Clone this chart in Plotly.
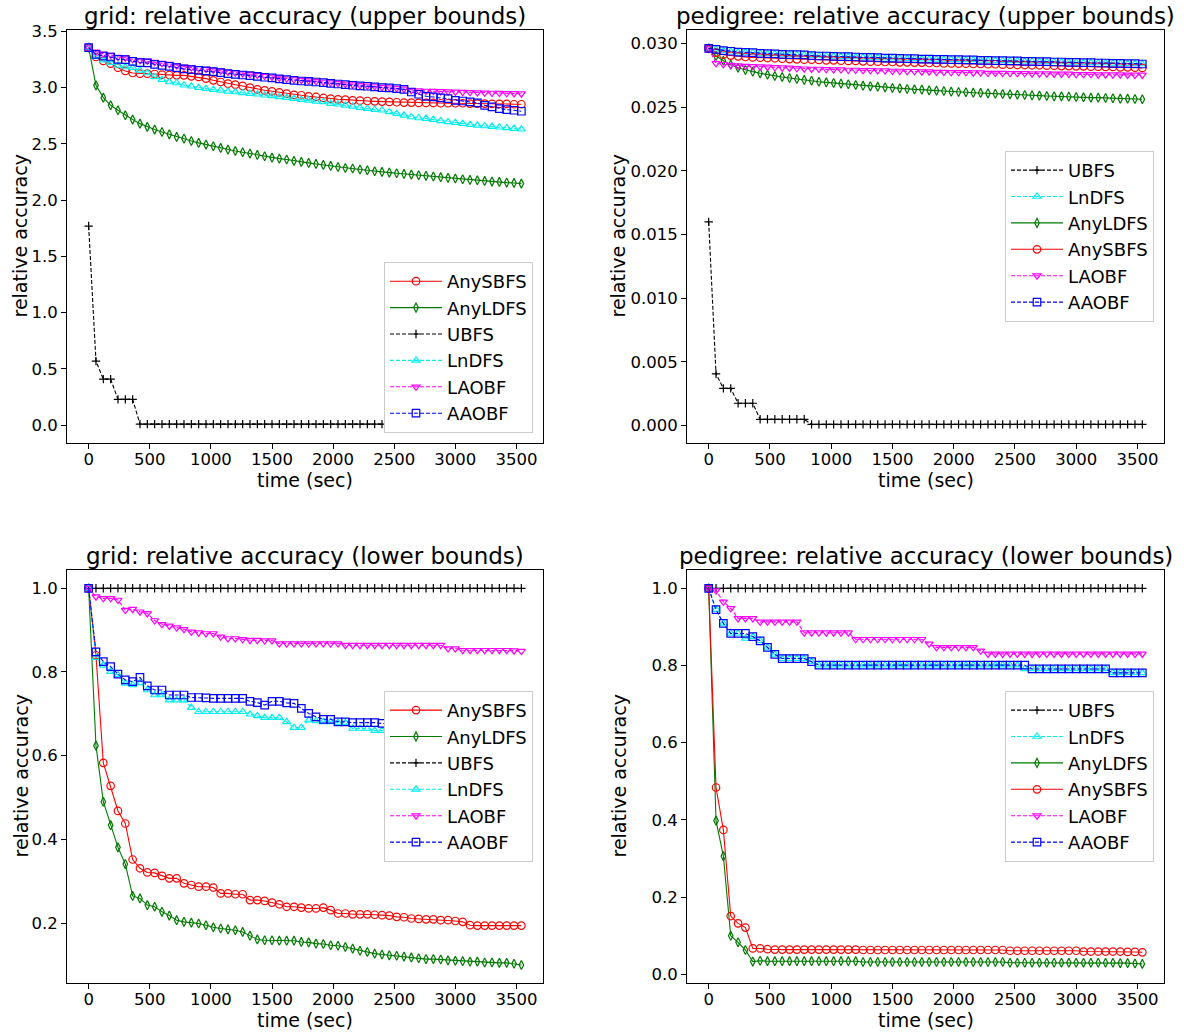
import plotly.graph_objects as go

# ---------------- data ----------------
T = [0, 60, 120, 180, 240, 300, 360, 420, 480, 540, 600, 660, 720, 780, 840, 900, 960, 1020,
     1080, 1140, 1200, 1260, 1320, 1380, 1440, 1500, 1560, 1620, 1680, 1740, 1800, 1860, 1920,
     1980, 2040, 2100, 2160, 2220, 2280, 2340, 2400, 2460, 2520, 2580, 2640, 2700, 2760, 2820,
     2880, 2940, 3000, 3060, 3120, 3180, 3240, 3300, 3360, 3420, 3480, 3540]

X_TICKS = [0, 500, 1000, 1500, 2000, 2500, 3000, 3500]

# grid: upper bounds
grid_ub_AnySBFS = [3.355, 3.272, 3.237, 3.213, 3.177, 3.148, 3.130, 3.124, 3.124, 3.121,
                   3.115, 3.112, 3.109, 3.109, 3.100, 3.095, 3.080, 3.065, 3.050, 3.035,
                   3.026, 3.015, 3.000, 2.985, 2.976, 2.967, 2.958, 2.947, 2.935, 2.932,
                   2.923, 2.917, 2.908, 2.902, 2.896, 2.893, 2.887, 2.884, 2.881, 2.878,
                   2.876, 2.873, 2.870, 2.867, 2.867, 2.864, 2.864, 2.864, 2.861, 2.861,
                   2.861, 2.861, 2.858, 2.858, 2.858, 2.855, 2.855, 2.855, 2.852, 2.852]
grid_ub_AnyLDFS = [3.355, 3.020, 2.911, 2.843, 2.799, 2.754, 2.716, 2.680, 2.651, 2.627,
                   2.606, 2.585, 2.562, 2.547, 2.526, 2.509, 2.494, 2.479, 2.464, 2.449,
                   2.437, 2.426, 2.414, 2.402, 2.390, 2.378, 2.369, 2.361, 2.349, 2.340,
                   2.331, 2.322, 2.313, 2.304, 2.295, 2.286, 2.281, 2.272, 2.266, 2.257,
                   2.251, 2.245, 2.239, 2.233, 2.227, 2.221, 2.216, 2.210, 2.204, 2.198,
                   2.192, 2.186, 2.180, 2.177, 2.171, 2.165, 2.162, 2.156, 2.153, 2.147]
grid_ub_UBFS = [1.77, 0.57, 0.41, 0.41, 0.23, 0.23, 0.23] + [0.01] * 53
grid_ub_LnDFS = [3.355, 3.272, 3.243, 3.222, 3.198, 3.183, 3.177, 3.154, 3.130, 3.095,
                 3.071, 3.050, 3.041, 3.021, 3.012, 3.000, 2.991, 2.982, 2.976, 2.967,
                 2.961, 2.953, 2.947, 2.941, 2.932, 2.926, 2.917, 2.911, 2.902, 2.893,
                 2.887, 2.878, 2.873, 2.858, 2.852, 2.843, 2.834, 2.822, 2.813, 2.804,
                 2.799, 2.784, 2.769, 2.754, 2.739, 2.730, 2.725, 2.716, 2.704, 2.695,
                 2.689, 2.680, 2.671, 2.665, 2.659, 2.654, 2.648, 2.642, 2.636, 2.630]
grid_ub_LAOBF = [3.355, 3.318, 3.300, 3.290, 3.272, 3.266, 3.252, 3.242, 3.238, 3.226,
                 3.217, 3.208, 3.196, 3.185, 3.178, 3.172, 3.165, 3.158, 3.149, 3.139,
                 3.132, 3.125, 3.118, 3.111, 3.102, 3.095, 3.086, 3.079, 3.072, 3.066,
                 3.062, 3.056, 3.050, 3.044, 3.038, 3.032, 3.026, 3.020, 3.016, 3.010,
                 3.004, 3.000, 2.994, 2.988, 2.976, 2.973, 2.970, 2.968, 2.966, 2.964,
                 2.962, 2.960, 2.958, 2.956, 2.954, 2.952, 2.951, 2.949, 2.948, 2.946]
grid_ub_AAOBF = [3.355, 3.296, 3.281, 3.272, 3.251, 3.248, 3.234, 3.222, 3.219, 3.207,
                 3.198, 3.189, 3.177, 3.166, 3.160, 3.154, 3.148, 3.142, 3.133, 3.124,
                 3.118, 3.112, 3.106, 3.100, 3.092, 3.086, 3.077, 3.071, 3.065, 3.059,
                 3.056, 3.050, 3.044, 3.038, 3.032, 3.026, 3.021, 3.015, 3.012, 3.006,
                 3.000, 2.997, 2.991, 2.985, 2.961, 2.941, 2.923, 2.917, 2.908, 2.902,
                 2.887, 2.881, 2.873, 2.864, 2.843, 2.828, 2.813, 2.804, 2.799, 2.790]

# pedigree: upper bounds
ped_ub_UBFS = [0.0160, 0.00406, 0.00293, 0.00293, 0.00176, 0.00176, 0.00176] + [0.0005] * 7 + [0.0001] * 46
ped_ub_AAOBF = [0.02962, 0.02954, 0.02944, 0.02939, 0.02933, 0.02931, 0.02928, 0.02923, 0.02920, 0.02918,
                0.02915, 0.02912, 0.02912, 0.02910, 0.02905, 0.02902, 0.02902, 0.02899, 0.02897, 0.02897,
                0.02894, 0.02891, 0.02891, 0.02889, 0.02886, 0.02886, 0.02884, 0.02881, 0.02881, 0.02878,
                0.02878, 0.02876, 0.02876, 0.02873, 0.02873, 0.02871, 0.02871, 0.02868, 0.02868, 0.02865,
                0.02865, 0.02863, 0.02863, 0.02860, 0.02860, 0.02857, 0.02857, 0.02855, 0.02855, 0.02852,
                0.02852, 0.02850, 0.02850, 0.02847, 0.02847, 0.02844, 0.02844, 0.02842, 0.02842, 0.02839]
ped_ub_LnDFS = [0.02962, 0.02954, 0.02944, 0.02939, 0.02933, 0.02931, 0.02928, 0.02923, 0.02920, 0.02918,
                0.02915, 0.02912, 0.02912, 0.02910, 0.02905, 0.02902, 0.02902, 0.02899, 0.02897, 0.02897,
                0.02894, 0.02891, 0.02891, 0.02889, 0.02886, 0.02886, 0.02884, 0.02881, 0.02881, 0.02878,
                0.02878, 0.02876, 0.02876, 0.02873, 0.02873, 0.02871, 0.02871, 0.02868, 0.02868, 0.02865,
                0.02865, 0.02863, 0.02863, 0.02860, 0.02860, 0.02857, 0.02857, 0.02855, 0.02855, 0.02852,
                0.02852, 0.02850, 0.02850, 0.02847, 0.02847, 0.02844, 0.02844, 0.02842, 0.02842, 0.02839]
ped_ub_AnySBFS = [0.02962, 0.02928, 0.02912, 0.02905, 0.02899, 0.02894, 0.02891, 0.02889, 0.02886, 0.02884,
                  0.02881, 0.02878, 0.02876, 0.02873, 0.02873, 0.02871, 0.02868, 0.02868, 0.02865, 0.02863,
                  0.02863, 0.02860, 0.02857, 0.02857, 0.02855, 0.02855, 0.02852, 0.02852, 0.02850, 0.02850,
                  0.02847, 0.02847, 0.02844, 0.02844, 0.02842, 0.02842, 0.02839, 0.02839, 0.02837, 0.02837,
                  0.02834, 0.02834, 0.02831, 0.02831, 0.02829, 0.02829, 0.02826, 0.02826, 0.02823, 0.02823,
                  0.02821, 0.02821, 0.02818, 0.02818, 0.02816, 0.02816, 0.02813, 0.02813, 0.02810, 0.02808]
ped_ub_LAOBF = [0.02962, 0.02844, 0.02837, 0.02831, 0.02826, 0.02823, 0.02821, 0.02818, 0.02816, 0.02813,
                0.02810, 0.02808, 0.02805, 0.02802, 0.02800, 0.02800, 0.02797, 0.02795, 0.02795, 0.02792,
                0.02792, 0.02789, 0.02789, 0.02787, 0.02787, 0.02784, 0.02784, 0.02782, 0.02782, 0.02779,
                0.02779, 0.02776, 0.02776, 0.02774, 0.02774, 0.02774, 0.02771, 0.02771, 0.02768, 0.02768,
                0.02768, 0.02766, 0.02766, 0.02766, 0.02763, 0.02763, 0.02763, 0.02761, 0.02761, 0.02761,
                0.02758, 0.02758, 0.02758, 0.02755, 0.02755, 0.02755, 0.02755, 0.02753, 0.02753, 0.02753]
ped_ub_AnyLDFS = [0.02962, 0.02902, 0.02865, 0.02834, 0.02810, 0.02792, 0.02779, 0.02766, 0.02755, 0.02745,
                  0.02737, 0.02729, 0.02721, 0.02714, 0.02708, 0.02700, 0.02695, 0.02690, 0.02685, 0.02680,
                  0.02674, 0.02669, 0.02664, 0.02661, 0.02656, 0.02651, 0.02648, 0.02643, 0.02640, 0.02638,
                  0.02632, 0.02630, 0.02627, 0.02622, 0.02619, 0.02617, 0.02614, 0.02612, 0.02609, 0.02606,
                  0.02604, 0.02601, 0.02598, 0.02596, 0.02593, 0.02591, 0.02588, 0.02585, 0.02585, 0.02583,
                  0.02580, 0.02578, 0.02575, 0.02575, 0.02572, 0.02570, 0.02567, 0.02567, 0.02564, 0.02562]

# grid: lower bounds
grid_lb_UBFS = [1.0] * 60
grid_lb_AnySBFS = [1.0, 0.840, 0.583, 0.528, 0.468, 0.438, 0.352, 0.331, 0.321, 0.320,
                   0.313, 0.307, 0.307, 0.295, 0.291, 0.287, 0.287, 0.285, 0.271, 0.271,
                   0.269, 0.269, 0.255, 0.255, 0.253, 0.249, 0.245, 0.239, 0.239, 0.237,
                   0.235, 0.235, 0.237, 0.231, 0.223, 0.223, 0.221, 0.221, 0.221, 0.220,
                   0.219, 0.218, 0.215, 0.214, 0.211, 0.210, 0.209, 0.209, 0.207, 0.207,
                   0.205, 0.203, 0.195, 0.194, 0.194, 0.194, 0.194, 0.194, 0.194, 0.194]
grid_lb_AnyLDFS = [1.0, 0.624, 0.490, 0.434, 0.381, 0.341, 0.265, 0.259, 0.243, 0.239,
                   0.227, 0.218, 0.207, 0.203, 0.201, 0.199, 0.195, 0.190, 0.187, 0.185,
                   0.183, 0.179, 0.170, 0.161, 0.159, 0.159, 0.158, 0.158, 0.158, 0.155,
                   0.154, 0.151, 0.150, 0.147, 0.146, 0.143, 0.139, 0.134, 0.131, 0.127,
                   0.125, 0.123, 0.122, 0.120, 0.118, 0.116, 0.114, 0.114, 0.113, 0.111,
                   0.110, 0.109, 0.108, 0.108, 0.106, 0.106, 0.105, 0.105, 0.103, 0.100]
grid_lb_LnDFS = [1.0, 0.834, 0.816, 0.801, 0.793, 0.773, 0.769, 0.774, 0.757, 0.745,
                 0.745, 0.733, 0.733, 0.733, 0.715, 0.705, 0.705, 0.705, 0.705, 0.705,
                 0.705, 0.705, 0.699, 0.695, 0.691, 0.691, 0.691, 0.681, 0.667, 0.667,
                 0.685, 0.683, 0.681, 0.681, 0.679, 0.679, 0.665, 0.665, 0.665, 0.660,
                 0.660, 0.660, 0.659, 0.659, 0.658, 0.658, 0.657, 0.657, 0.656, 0.656,
                 0.655, 0.655, 0.654, 0.654, 0.653, 0.653, 0.652, 0.652, 0.651, 0.651]
grid_lb_LAOBF = [1.0, 0.980, 0.976, 0.976, 0.972, 0.948, 0.950, 0.944, 0.940, 0.923,
                 0.914, 0.910, 0.906, 0.902, 0.896, 0.894, 0.892, 0.892, 0.884, 0.880,
                 0.880, 0.878, 0.876, 0.876, 0.875, 0.875, 0.868, 0.868, 0.868, 0.868,
                 0.868, 0.868, 0.868, 0.868, 0.868, 0.864, 0.864, 0.864, 0.864, 0.864,
                 0.864, 0.864, 0.864, 0.864, 0.864, 0.864, 0.864, 0.864, 0.864, 0.856,
                 0.856, 0.852, 0.852, 0.852, 0.852, 0.852, 0.852, 0.852, 0.851, 0.850]
grid_lb_AAOBF = [1.0, 0.848, 0.825, 0.813, 0.795, 0.781, 0.777, 0.787, 0.767, 0.757,
                 0.757, 0.745, 0.745, 0.745, 0.739, 0.739, 0.738, 0.737, 0.737, 0.737,
                 0.737, 0.737, 0.730, 0.727, 0.721, 0.730, 0.730, 0.726, 0.725, 0.713,
                 0.701, 0.693, 0.687, 0.687, 0.681, 0.681, 0.679, 0.679, 0.679, 0.679,
                 0.677, 0.677, 0.676, 0.676, 0.675, 0.675, 0.674, 0.674, 0.673, 0.673,
                 0.672, 0.672, 0.671, 0.671, 0.670, 0.670, 0.669, 0.669, 0.668, 0.668]

# pedigree: lower bounds
ped_lb_UBFS = [1.0] * 60
ped_lb_LnDFS = [1.0, 0.945, 0.909, 0.883, 0.883, 0.870, 0.875, 0.864, 0.847, 0.829,
                0.818, 0.818, 0.818, 0.818, 0.810] + [0.801] * 28 + [0.791] * 12 + [0.781] * 5
ped_lb_AnyLDFS = [1.0, 0.398, 0.306, 0.100, 0.083, 0.063, 0.033, 0.035] + [0.034] * 13 + \
                 [0.032] * 20 + [0.030] * 15 + [0.029, 0.029, 0.028, 0.027]
ped_lb_AnySBFS = [1.0, 0.484, 0.374, 0.151, 0.132, 0.121, 0.067, 0.067, 0.065] + [0.064] * 12 + \
                 [0.063] * 20 + [0.061] * 10 + [0.059] * 6 + [0.058, 0.058, 0.057]
ped_lb_LAOBF = [1.0, 0.994, 0.965, 0.948, 0.922, 0.922, 0.922] + [0.913] * 6 + [0.885] * 7 + \
               [0.868] * 10 + [0.856] + [0.847] * 6 + [0.838] + [0.830] * 22
ped_lb_AAOBF = [1.0, 0.945, 0.909, 0.883, 0.883, 0.883, 0.875, 0.864, 0.847, 0.829,
                0.818, 0.818, 0.818, 0.818, 0.810] + [0.801] * 29 + [0.791] * 11 + [0.781] * 5

# ---------------- styles ----------------
FONT = "DejaVu Sans"
STYLE = {
    "AnySBFS": dict(color="#ff0000", dash="solid", symbol="circle-open", size=7.5),
    "AnyLDFS": dict(color="#007a00", dash="solid", symbol="diamond-tall-open", size=6.5),
    "UBFS":    dict(color="#000000", dash="4px,2px", symbol="cross-thin-open", size=6),
    "LnDFS":   dict(color="#00f0f0", dash="4px,2px", symbol="triangle-up-open", size=7),
    "LAOBF":   dict(color="#ff00ff", dash="4px,2px", symbol="triangle-down-open", size=7),
    "AAOBF":   dict(color="#0000ff", dash="4px,2px", symbol="square-open", size=7.5),
}

W, H = 1184, 1033
# pixel boxes of the four axes (left, right, top, bottom)
BOXES = {
    1: (67, 543, 30, 443),
    2: (687, 1164, 30, 443),
    3: (67, 543, 570, 983),
    4: (687, 1164, 570, 983),
}

panels = [
    (1, "legend", "grid: relative accuracy (upper bounds)",
     [("AnySBFS", grid_ub_AnySBFS), ("AnyLDFS", grid_ub_AnyLDFS), ("UBFS", grid_ub_UBFS),
      ("LnDFS", grid_ub_LnDFS), ("LAOBF", grid_ub_LAOBF), ("AAOBF", grid_ub_AAOBF)],
     [-0.158, 3.512], [0.0, 0.5, 1.0, 1.5, 2.0, 2.5, 3.0, 3.5], ".1f"),
    (2, "legend2", "pedigree: relative accuracy (upper bounds)",
     [("UBFS", ped_ub_UBFS), ("LnDFS", ped_ub_LnDFS), ("AnyLDFS", ped_ub_AnyLDFS),
      ("AnySBFS", ped_ub_AnySBFS), ("LAOBF", ped_ub_LAOBF), ("AAOBF", ped_ub_AAOBF)],
     [-0.00136, 0.03106], [0.0, 0.005, 0.010, 0.015, 0.020, 0.025, 0.030], ".3f"),
    (3, "legend3", "grid: relative accuracy (lower bounds)",
     [("AnySBFS", grid_lb_AnySBFS), ("AnyLDFS", grid_lb_AnyLDFS), ("UBFS", grid_lb_UBFS),
      ("LnDFS", grid_lb_LnDFS), ("LAOBF", grid_lb_LAOBF), ("AAOBF", grid_lb_AAOBF)],
     [0.0569, 1.0437], [0.2, 0.4, 0.6, 0.8, 1.0], ".1f"),
    (4, "legend4", "pedigree: relative accuracy (lower bounds)",
     [("UBFS", ped_lb_UBFS), ("LnDFS", ped_lb_LnDFS), ("AnyLDFS", ped_lb_AnyLDFS),
      ("AnySBFS", ped_lb_AnySBFS), ("LAOBF", ped_lb_LAOBF), ("AAOBF", ped_lb_AAOBF)],
     [-0.0225, 1.0474], [0.0, 0.2, 0.4, 0.6, 0.8, 1.0], ".1f"),
]

fig = go.Figure()
layout = dict(
    width=W, height=H, margin=dict(l=0, r=0, t=0, b=0, autoexpand=False),
    paper_bgcolor="white", plot_bgcolor="white",
    font=dict(family=FONT, color="black"),
    showlegend=True, annotations=[],
)

LEGEND_POS = {
    "legend": (533 / W, 1 - 433 / H, "bottom"),
    "legend2": (1154 / W, 1 - 236.4 / H, "middle"),
    "legend3": (533 / W, 1 - 776.4 / H, "middle"),
    "legend4": (1154 / W, 1 - 776.4 / H, "middle"),
}

for idx, legname, title, series, yrange, yticks, yfmt in panels:
    sfx = "" if idx == 1 else str(idx)
    l, r, t, b = BOXES[idx]
    xdom = [l / W, r / W]
    ydom = [1 - b / H, 1 - t / H]
    for name, vals in series:
        st = STYLE[name]
        fig.add_trace(go.Scatter(
            x=T[:len(vals)], y=vals, mode="lines+markers", name=name, legend=legname,
            xaxis="x" + sfx, yaxis="y" + sfx,
            line=dict(color=st["color"], width=1.1, dash=st["dash"]),
            marker=dict(symbol=st["symbol"], size=st["size"], color=st["color"],
                        line=dict(width=1.2, color=st["color"])),
        ))
    axis_common = dict(showgrid=False, zeroline=False, showline=True, mirror=True,
                       linecolor="black", linewidth=1, ticks="outside", ticklen=5,
                       tickwidth=1, tickcolor="black", automargin=False,
                       tickfont=dict(family=FONT, size=16.5, color="black"))
    layout["xaxis" + sfx] = dict(domain=xdom, range=[-177, 3717], tickmode="array",
                                 tickvals=X_TICKS, anchor="y" + sfx, ticklabelstandoff=-4,
                                 **axis_common)
    layout["yaxis" + sfx] = dict(domain=ydom, range=yrange, tickmode="array",
                                 tickvals=yticks, tickformat=yfmt, anchor="x" + sfx,
                                 **axis_common)
    lx, ly, lya = LEGEND_POS[legname]
    layout[legname] = dict(x=lx, y=ly, xanchor="right", yanchor=lya,
                           bgcolor="white", bordercolor="#cccccc", borderwidth=1,
                           font=dict(family=FONT, size=18, color="black"),
                           tracegroupgap=0, itemwidth=52)
    cx = (l + r) / 2 / W
    # title
    layout["annotations"].append(dict(
        text=title, x=cx, y=1 - (t - 14) / H, xref="paper", yref="paper",
        xanchor="center", yanchor="middle", showarrow=False,
        font=dict(family=FONT, size=23, color="black")))
    # x label
    layout["annotations"].append(dict(
        text="time (sec)", x=cx, y=1 - (b + 37) / H, xref="paper", yref="paper",
        xanchor="center", yanchor="middle", showarrow=False,
        font=dict(family=FONT, size=19, color="black")))
    # y label
    ylx = 20 if idx in (1, 3) else 618
    layout["annotations"].append(dict(
        text="relative accuracy", x=ylx / W, y=1 - (t + b) / 2 / H, xref="paper", yref="paper",
        xanchor="center", yanchor="middle", textangle=-90, showarrow=False,
        font=dict(family=FONT, size=19, color="black")))

fig.update_layout(**layout)
fig.write_html(
    "out.html",
    config={"displayModeBar": False},
    post_script=(
        "document.body.style.margin='0';document.body.style.padding='0';"
        "document.body.style.overflow='hidden';"
        "var gd=document.getElementById('{plot_id}');"
        "gd.style.position='fixed';gd.style.top='0px';gd.style.left='0px';"
    ),
)
